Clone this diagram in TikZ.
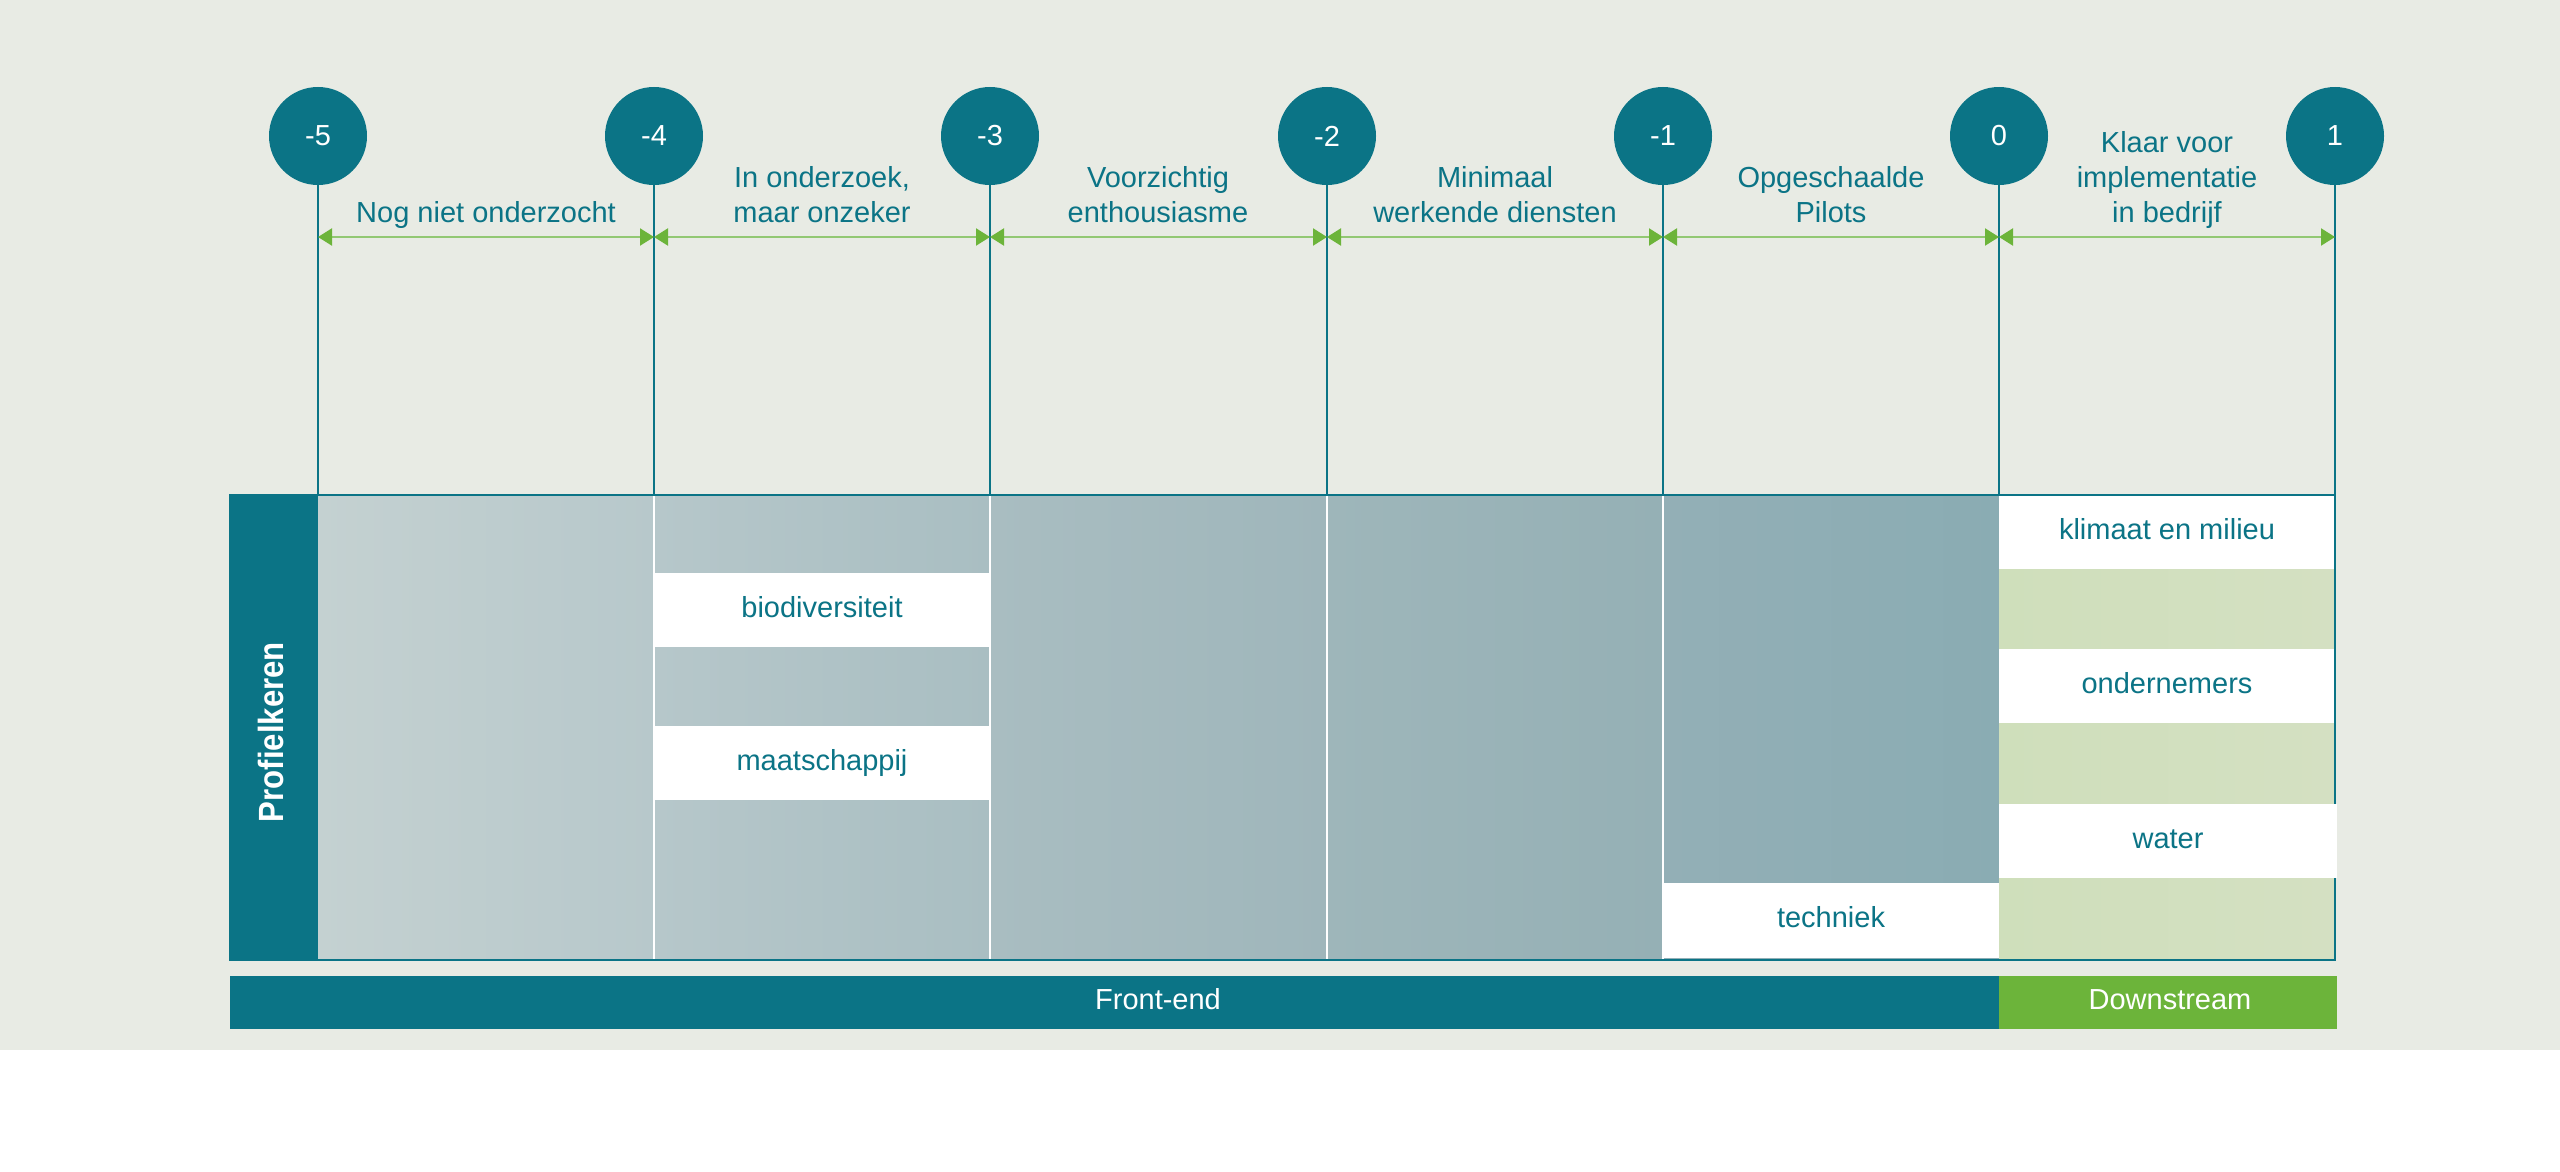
\documentclass[tikz,border=0pt]{standalone}
\usepackage{fontspec}
\setmainfont{Liberation Sans}
\usetikzlibrary{arrows.meta}
\definecolor{bgc}{HTML}{E8EBE4}
\definecolor{tealc}{HTML}{0B7486}
\definecolor{greenc}{HTML}{6CB43A}
\definecolor{lgreenc}{HTML}{92C873}
\definecolor{ca}{HTML}{C4D1D1}\definecolor{cb}{HTML}{B7C8CB}
\definecolor{cc}{HTML}{B6C7CA}\definecolor{cd}{HTML}{A9BEC2}
\definecolor{ce}{HTML}{A9BDC1}\definecolor{cf}{HTML}{9FB6BB}
\definecolor{cg}{HTML}{9EB6BA}\definecolor{ch}{HTML}{95B0B5}
\definecolor{ci}{HTML}{93AFB6}\definecolor{cj}{HTML}{8AACB3}
\definecolor{ck}{HTML}{CFDFBB}\definecolor{cl}{HTML}{D4E0C2}
\newcommand\myfs{\fontsize{14.5}{17.5}\selectfont}
\newcommand\mystack[1]{\begin{tabular}[b]{@{}c@{}}#1\end{tabular}}
\begin{document}
\begin{tikzpicture}[x=0.5pt,y=-0.5pt,
  stage/.style={circle,fill=tealc,text=white,minimum size=49pt,inner sep=0pt,font=\myfs},
  tick/.style={draw=tealc,line width=1pt},
  sepline/.style={draw=white,line width=1pt},
  span/.style={draw=lgreenc,line width=1.1pt,{Triangle[length=7pt,width=8.5pt,color=greenc]}-{Triangle[length=7pt,width=8.5pt,color=greenc]}},
  lab/.style={text=tealc,font=\myfs,anchor=base,inner sep=0pt},
  band/.style={fill=white,text=tealc,font=\myfs,minimum width=168pt,minimum height=37pt,inner sep=0pt,text height=10.4pt,text depth=3pt},
  bartext/.style={text=white,font=\myfs,text height=10.4pt,text depth=3pt,inner sep=0pt}
]
\useasboundingbox (0,0) rectangle (2560,1172);
\fill[white] (0,0) rectangle (2560,1172);
\fill[bgc] (0,0) rectangle (2560,1050);

% stage circles
\node[stage] (c0) at (318,136) {-5};
\node[stage] (c1) at (654,136) {-4};
\node[stage] (c2) at (990,136) {-3};
\node[stage] (c3) at (1327,136) {-2};
\node[stage] (c4) at (1663,136) {-1};
\node[stage] (c5) at (1999,136) {0};
\node[stage] (c6) at (2335,136) {1};

% tick ends
\coordinate (t0) at (318,495);
\coordinate (t1) at (654,495);
\coordinate (t2) at (990,495);
\coordinate (t3) at (1327,495);
\coordinate (t4) at (1663,495);
\coordinate (t5) at (1999,495);
\coordinate (t6) at (2335,960);

% table cells
\fill[tealc] (230,495) rectangle (318,960);
\shade[left color=ca, right color=cb] (318,495) rectangle (654,960);
\shade[left color=cc, right color=cd] (654,495) rectangle (990,960);
\shade[left color=ce, right color=cf] (990,495) rectangle (1327,960);
\shade[left color=cg, right color=ch] (1327,495) rectangle (1663,960);
\shade[left color=ci, right color=cj] (1663,495) rectangle (1999,960);
\shade[left color=ck, right color=cl] (1999,495) rectangle (2335,960);

\node[band] (bio) at (822,610) {biodiversiteit};
\node[band] (maat) at (822,763) {maatschappij};
\node[band,minimum height=37.5pt] (tech) at (1831,920.5) {techniek};
\node[band] (klim) at (2167,532) {klimaat en milieu};
\node[band] (ond) at (2167,686) {ondernemers};

\draw[sepline] (654,495) -- (654,960);
\draw[sepline] (990,495) -- (990,960);
\draw[sepline] (1327,495) -- (1327,960);
\draw[sepline] (1663,495) -- (1663,960);

\node[rotate=90,text=white,font=\fontsize{17.5}{21}\selectfont\bfseries,inner sep=0pt] (prof) at (270.5,732) {\scalebox{0.89}[1]{Profielkeren}};

% ticks
\draw[tick] (c0.south) -- (t0);
\draw[tick] (c1.south) -- (t1);
\draw[tick] (c2.south) -- (t2);
\draw[tick] (c3.south) -- (t3);
\draw[tick] (c4.south) -- (t4);
\draw[tick] (c5.south) -- (t5);
\draw[tick] (c6.south) -- (t6);

% table border
\draw[tealc,line width=1.2pt] (230,495) rectangle (2335,960);
\node[band,minimum width=169pt] (wat) at (2168,841) {water};

% span arrows
\coordinate (a0) at (318,237);
\coordinate (a1) at (654,237);
\coordinate (a2) at (990,237);
\coordinate (a3) at (1327,237);
\coordinate (a4) at (1663,237);
\coordinate (a5) at (1999,237);
\coordinate (a6) at (2335,237);
\draw[span] (a0) -- (a1);
\draw[span] (a1) -- (a2);
\draw[span] (a2) -- (a3);
\draw[span] (a3) -- (a4);
\draw[span] (a4) -- (a5);
\draw[span] (a5) -- (a6);

% labels
\node[lab] (l0) at (486,222) {\mystack{Nog niet onderzocht}};
\node[lab] (l1) at (822,222) {\mystack{In onderzoek,\\maar onzeker}};
\node[lab] (l2) at (1158,222) {\mystack{Voorzichtig\\enthousiasme}};
\node[lab] (l3) at (1495,222) {\mystack{Minimaal\\werkende diensten}};
\node[lab] (l4) at (1831,222) {\mystack{Opgeschaalde\\Pilots}};
\node[lab] (l5) at (2167,222) {\mystack{Klaar voor\\implementatie\\in bedrijf}};

% bottom bars
\fill[tealc] (230,976) rectangle (1999,1029);
\fill[greenc] (1999,976) rectangle (2337,1029);
\node[bartext] (fe) at (1158,1002.5) {Front-end};
\node[bartext] (ds) at (2170,1002.5) {Downstream};
\end{tikzpicture}
\end{document}
